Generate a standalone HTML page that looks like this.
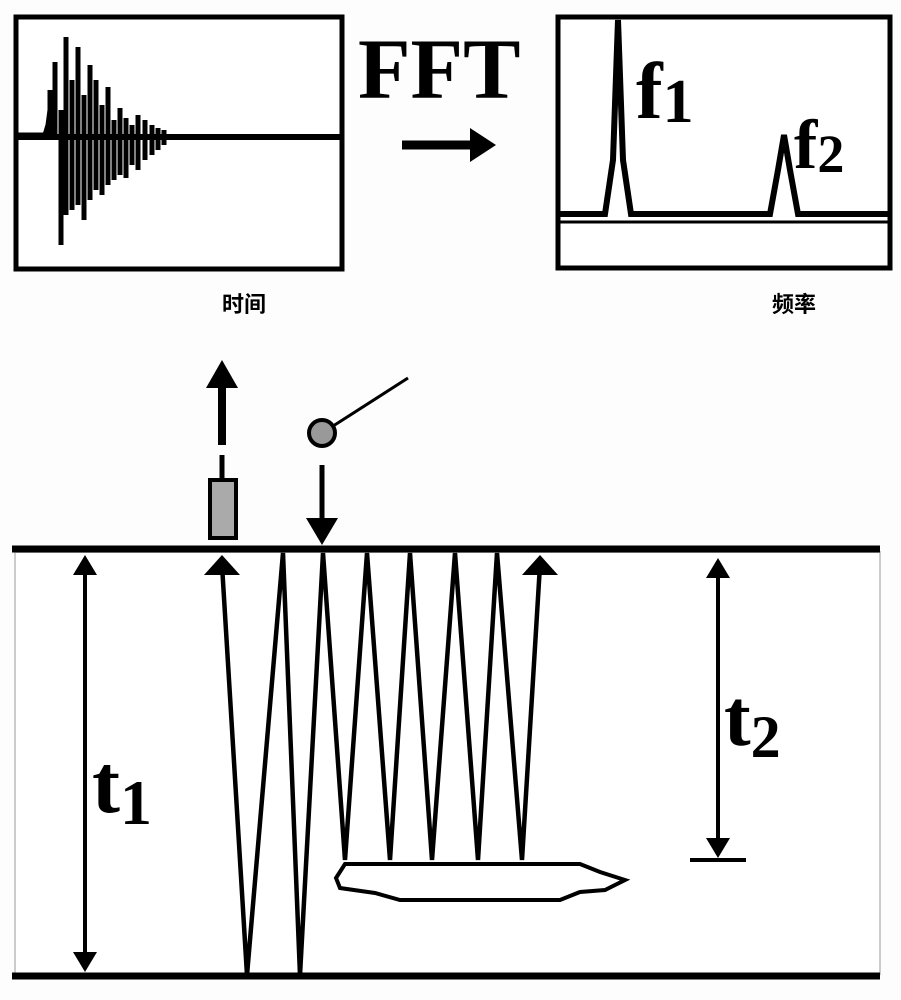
<!DOCTYPE html>
<html><head><meta charset="utf-8"><style>
html,body{margin:0;padding:0;background:#fff}
svg{display:block}
</style></head><body>
<svg width="901" height="1000" viewBox="0 0 901 1000" xmlns="http://www.w3.org/2000/svg">
<rect width="901" height="1000" fill="#fdfdfd"/>
<rect x="16" y="17" width="326" height="252" fill="#fff" stroke="#000" stroke-width="5"/>
<line x1="18" y1="137" x2="340" y2="137" stroke="#000" stroke-width="6"/>
<path d="M18,135 L45,135 L48,125 L50,110" stroke="#000" stroke-width="5" fill="none"/>
<g stroke="#000" stroke-width="5">
<line x1="50" y1="135" x2="50" y2="90"/><line x1="55" y1="135" x2="55" y2="62"/>
<line x1="61" y1="110" x2="61" y2="245"/><line x1="66" y1="37" x2="66" y2="215"/>
<line x1="72" y1="80" x2="72" y2="210"/><line x1="78" y1="47" x2="78" y2="205"/>
<line x1="84" y1="95" x2="84" y2="220"/><line x1="90" y1="65" x2="90" y2="200"/>
<line x1="96" y1="80" x2="96" y2="190"/><line x1="102" y1="105" x2="102" y2="195"/>
<line x1="108" y1="87" x2="108" y2="185"/><line x1="114" y1="120" x2="114" y2="180"/>
<line x1="120" y1="108" x2="120" y2="175"/><line x1="126" y1="118" x2="126" y2="178"/>
<line x1="132" y1="125" x2="132" y2="165"/><line x1="138" y1="115" x2="138" y2="170"/>
<line x1="145" y1="120" x2="145" y2="160"/><line x1="152" y1="125" x2="152" y2="155"/>
<line x1="158" y1="128" x2="158" y2="150"/><line x1="164" y1="130" x2="164" y2="145"/>
</g>
<text x="222" y="312" font-family="Liberation Sans, Noto Sans CJK SC, sans-serif" font-size="22" font-weight="bold">时间</text>
<text x="358" y="98" font-family="Liberation Serif, serif" font-size="86" font-weight="bold">FFT</text>
<line x1="402" y1="145" x2="475" y2="145" stroke="#000" stroke-width="9"/>
<polygon points="470,128 496,145 470,162" fill="#000"/>
<rect x="558" y="17" width="332" height="251" fill="#fff" stroke="#000" stroke-width="5"/>
<line x1="560" y1="222" x2="888" y2="222" stroke="#000" stroke-width="3"/>
<polyline points="560,214 605,214 613,160 618,20 623,160 631,214 770,214 778,170 784,135 790,170 798,214 888,214" fill="none" stroke="#000" stroke-width="6"/>
<text x="636" y="118" font-family="Liberation Serif, serif" font-size="80" font-weight="bold">f<tspan font-size="62" dy="4">1</tspan></text>
<text x="794" y="168" font-family="Liberation Serif, serif" font-size="70" font-weight="bold">f<tspan font-size="54" dy="4">2</tspan></text>
<text x="772" y="312" font-family="Liberation Sans, Noto Sans CJK SC, sans-serif" font-size="22" font-weight="bold">频率</text>
<line x1="222" y1="445" x2="222" y2="385" stroke="#000" stroke-width="8"/>
<polygon points="206,388 222,360 238,388" fill="#000"/>
<line x1="222" y1="455" x2="222" y2="480" stroke="#000" stroke-width="5"/>
<rect x="210" y="480" width="26" height="58" fill="#aaa" stroke="#000" stroke-width="4"/>
<line x1="330" y1="428" x2="408" y2="378" stroke="#000" stroke-width="3"/>
<circle cx="322" cy="433" r="13" fill="#999" stroke="#000" stroke-width="4"/>
<line x1="322" y1="465" x2="322" y2="520" stroke="#000" stroke-width="5"/>
<polygon points="306,518 338,518 322,545" fill="#000"/>
<rect x="15" y="552" width="865" height="422" fill="#fff" stroke="#ccc" stroke-width="2"/>
<line x1="12" y1="549" x2="880" y2="549" stroke="#000" stroke-width="7"/>
<line x1="12" y1="976" x2="880" y2="976" stroke="#000" stroke-width="7"/>
<polyline points="222,565 247,975 283,553 300,975 323,553 345,860 367,553 390,860 410,553 432,860 455,553 478,860 497,553 522,860 540,565" fill="none" stroke="#000" stroke-width="4.5"/>
<polygon points="204,575 222,555 240,575" fill="#000"/>
<polygon points="522,575 540,555 558,575" fill="#000"/>
<path d="M345,864 L580,864 L600,872 L625,880 L605,890 L580,892 L560,900 L400,900 L375,893 L340,888 L336,878 Z" fill="#fff" stroke="#000" stroke-width="4"/>
<line x1="85" y1="570" x2="85" y2="955" stroke="#000" stroke-width="4"/>
<polygon points="73,575 85,555 97,575" fill="#000"/>
<polygon points="73,952 85,972 97,952" fill="#000"/>
<text x="92" y="812" font-family="Liberation Serif, serif" font-size="84" font-weight="bold">t<tspan font-size="64" dy="12">1</tspan></text>
<line x1="718" y1="575" x2="718" y2="842" stroke="#000" stroke-width="4"/>
<polygon points="706,578 718,558 730,578" fill="#000"/>
<polygon points="706,838 718,858 730,838" fill="#000"/>
<line x1="690" y1="860" x2="746" y2="860" stroke="#000" stroke-width="4"/>
<text x="724" y="745" font-family="Liberation Serif, serif" font-size="80" font-weight="bold">t<tspan font-size="60" dy="12">2</tspan></text>
</svg>
</body></html>
